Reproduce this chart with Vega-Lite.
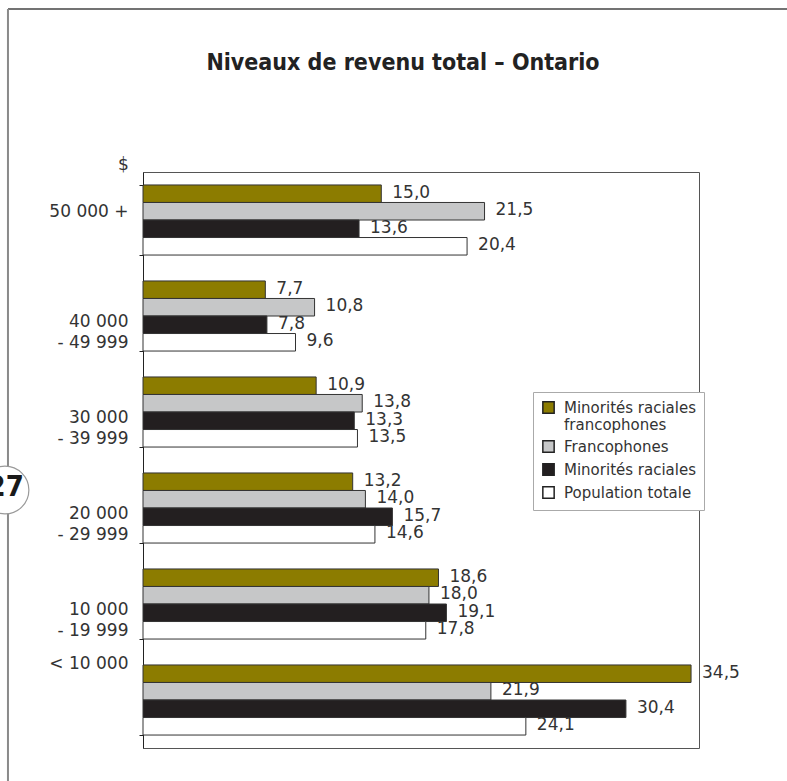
{
  "$schema": "https://vega.github.io/schema/vega-lite/v6.json",
  "width": 556,
  "height": 576,
  "autosize": "none",
  "padding": {"left": 143, "top": 172, "right": 88, "bottom": 33},
  "background": "#ffffff",
  "title": {"text": "Niveaux de revenu total – Ontario", "font": "DejaVu Sans Condensed", "fontWeight": "bold", "fontSize": 23, "color": "#222222", "anchor": "middle", "frame": "group", "dx": -18, "offset": 0, "dy": 67},
  "config": {
    "font": "DejaVu Sans",
    "view": {"stroke": "#555555", "strokeWidth": 1},
    "locale": {"number": {"decimal": ",", "thousands": " ", "grouping": [3], "currency": ["", " $"]}}
  },
  "resolve": {"scale": {"y": "independent"}},
  "layer": [
    {
      "data": {"values": [{"k": "frame"}]},
      "mark": {"type": "rule", "color": "#444444", "strokeWidth": 1.5},
      "encoding": {
        "x": {"datum": -8.5, "type": "quantitative", "scale": {"domain": [0, 35], "nice": false, "zero": true}, "axis": null},
        "x2": {"datum": 41},
        "y": {"datum": 1.283, "type": "quantitative", "scale": {"domain": [0, 1], "nice": false, "zero": false}, "axis": null}
      }
    },
    {
      "data": {"values": [{"k": "frame"}]},
      "mark": {"type": "rule", "color": "#8a8a8a", "strokeWidth": 2},
      "encoding": {
        "x": {"datum": -8.5, "type": "quantitative", "scale": {"domain": [0, 35], "nice": false, "zero": true}, "axis": null},
        "y": {"datum": 1.283, "type": "quantitative", "scale": {"domain": [0, 1], "nice": false, "zero": false}, "axis": null},
        "y2": {"datum": -0.06}
      }
    },
    {
      "data": {"values": [{"page": "27"}]},
      "mark": {"type": "point", "shape": "circle", "filled": true, "fill": "#ffffff", "stroke": "#9a9a9a", "strokeWidth": 1.2, "size": 2290, "opacity": 1},
      "encoding": {
        "x": {"datum": -8.69, "type": "quantitative", "scale": {"domain": [0, 35], "nice": false, "zero": true}, "axis": null},
        "y": {"datum": 0.4479, "type": "quantitative", "scale": {"domain": [0, 1], "nice": false, "zero": false}, "axis": null}
      }
    },
    {
      "data": {"values": [{"page": "27"}]},
      "mark": {"type": "text", "font": "DejaVu Sans Condensed", "fontWeight": "bold", "fontSize": 29, "color": "#1a1a1a", "align": "right", "baseline": "middle"},
      "encoding": {
        "x": {"datum": -7.5, "type": "quantitative", "scale": {"domain": [0, 35], "nice": false, "zero": true}, "axis": null},
        "y": {"datum": 0.4531, "type": "quantitative", "scale": {"domain": [0, 1], "nice": false, "zero": false}, "axis": null},
        "text": {"field": "page"}
      }
    },
    {
      "data": {"values": [
        {"revenu": "50 000 +", "groupe": "Minorités raciales francophones", "pct": 15.0},
        {"revenu": "50 000 +", "groupe": "Francophones", "pct": 21.5},
        {"revenu": "50 000 +", "groupe": "Minorités raciales", "pct": 13.6},
        {"revenu": "50 000 +", "groupe": "Population totale", "pct": 20.4},
        {"revenu": "40 000 - 49 999", "groupe": "Minorités raciales francophones", "pct": 7.7},
        {"revenu": "40 000 - 49 999", "groupe": "Francophones", "pct": 10.8},
        {"revenu": "40 000 - 49 999", "groupe": "Minorités raciales", "pct": 7.8},
        {"revenu": "40 000 - 49 999", "groupe": "Population totale", "pct": 9.6},
        {"revenu": "30 000 - 39 999", "groupe": "Minorités raciales francophones", "pct": 10.9},
        {"revenu": "30 000 - 39 999", "groupe": "Francophones", "pct": 13.8},
        {"revenu": "30 000 - 39 999", "groupe": "Minorités raciales", "pct": 13.3},
        {"revenu": "30 000 - 39 999", "groupe": "Population totale", "pct": 13.5},
        {"revenu": "20 000 - 29 999", "groupe": "Minorités raciales francophones", "pct": 13.2},
        {"revenu": "20 000 - 29 999", "groupe": "Francophones", "pct": 14.0},
        {"revenu": "20 000 - 29 999", "groupe": "Minorités raciales", "pct": 15.7},
        {"revenu": "20 000 - 29 999", "groupe": "Population totale", "pct": 14.6},
        {"revenu": "10 000 - 19 999", "groupe": "Minorités raciales francophones", "pct": 18.6},
        {"revenu": "10 000 - 19 999", "groupe": "Francophones", "pct": 18.0},
        {"revenu": "10 000 - 19 999", "groupe": "Minorités raciales", "pct": 19.1},
        {"revenu": "10 000 - 19 999", "groupe": "Population totale", "pct": 17.8},
        {"revenu": "< 10 000", "groupe": "Minorités raciales francophones", "pct": 34.5},
        {"revenu": "< 10 000", "groupe": "Francophones", "pct": 21.9},
        {"revenu": "< 10 000", "groupe": "Minorités raciales", "pct": 30.4},
        {"revenu": "< 10 000", "groupe": "Population totale", "pct": 24.1}
      ]},
      "encoding": {
        "y": {
          "field": "revenu", "type": "nominal", "sort": null,
          "scale": {"paddingInner": 0.27, "paddingOuter": 0.135},
          "axis": {
            "title": "$", "titleAngle": 0, "titleX": -20, "titleY": -8, "titleAlign": "center", "titleBaseline": "middle",
            "titleFont": "DejaVu Sans", "titleFontSize": 17, "titleFontWeight": "normal", "titleColor": "#333333",
            "labelFont": "DejaVu Sans", "labelFontSize": 17, "labelColor": "#333333", "labelPadding": 11, "labelLineHeight": 21,
            "labelExpr": "indexof(datum.label, ' - ') > 0 ? [slice(datum.label, 0, indexof(datum.label, ' - ')), slice(datum.label, indexof(datum.label, ' - ') + 1)] : datum.label",
            "labelOffset": {"condition": [{"test": "datum.value == '< 10 000'", "value": -37}, {"test": "datum.value == '50 000 +'", "value": -9}], "value": 5},
            "tickBand": "extent", "ticks": true, "tickSize": 4, "tickColor": "#222222", "domainColor": "#222222", "grid": false, "labelLimit": 300
          }
        },
        "yOffset": {"field": "groupe", "type": "nominal", "sort": null, "scale": {"paddingInner": 0, "paddingOuter": 0}},
        "x": {
          "field": "pct", "type": "quantitative",
          "scale": {"domain": [0, 35], "nice": false, "zero": true},
          "axis": {"labels": false, "ticks": false, "domain": false, "grid": false, "title": "%", "titleX": 537, "titleY": -552, "titleAlign": "center", "titleBaseline": "middle", "titleFont": "DejaVu Sans", "titleFontSize": 17, "titleFontWeight": "normal", "titleColor": "#333333"}
        }
      },
      "layer": [
        {
          "mark": {"type": "bar", "stroke": "#333333", "strokeWidth": 1},
          "encoding": {
            "fill": {
              "field": "groupe", "type": "nominal", "sort": null,
              "scale": {"domain": ["Minorités raciales francophones", "Francophones", "Minorités raciales", "Population totale"], "range": ["#8c7c00", "#c6c7c8", "#231f20", "#ffffff"]},
              "legend": {
                "orient": "none", "legendX": 390, "legendY": 220, "title": null, "padding": 8,
                "strokeColor": "#aaaaaa", "fillColor": "#ffffff", "symbolType": "square", "symbolSize": 128,
                "symbolStrokeColor": "#222222", "symbolStrokeWidth": 1.5, "labelFont": "DejaVu Sans", "labelFontSize": 15,
                "labelColor": "#333333", "labelOffset": 8, "rowPadding": 4, "labelLimit": 300,
                "labelExpr": "datum.label == 'Minorités raciales francophones' ? ['Minorités raciales', 'francophones'] : datum.label"
              }
            }
          }
        },
        {
          "mark": {"type": "text", "align": "left", "baseline": "middle", "dx": 11, "dy": -1, "font": "DejaVu Sans", "fontSize": 17, "color": "#333333"},
          "encoding": {
            "text": {"field": "pct", "type": "quantitative", "format": ".1f"}
          }
        }
      ]
    }
  ]
}
